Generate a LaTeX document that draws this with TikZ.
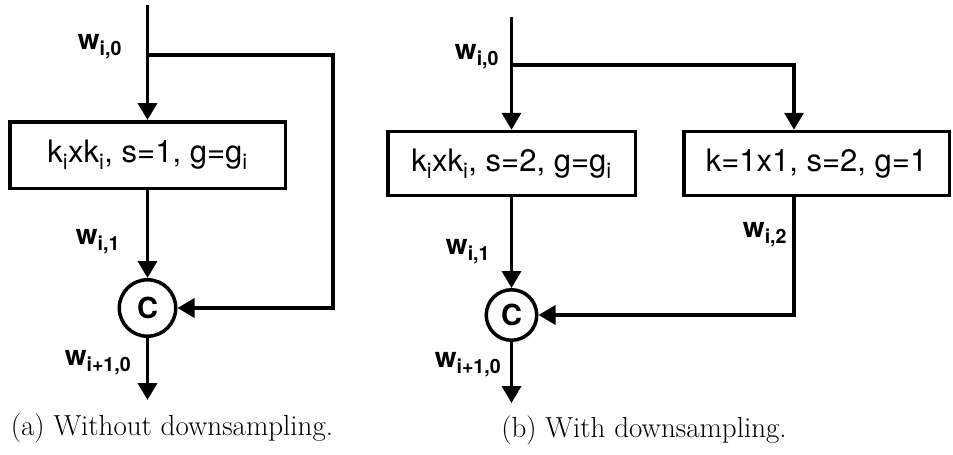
\documentclass[tikz,border=0pt]{standalone}
\usepackage{fontspec}
\newfontfamily\hv{TeX Gyre Heros}
\usetikzlibrary{arrows.meta}
\tikzset{
  ln/.style={line width=3.5pt, line join=miter},
  arr/.style={ln, -{Triangle[length=17pt,width=19pt]}},
  opbox/.style={draw, line width=3.5pt, inner sep=0pt, font=\hv\fontsize{31}{34}\selectfont},
  cat/.style={draw, circle, line width=3.5pt, inner sep=0pt, font=\hv\bfseries\fontsize{29}{30}\selectfont},
  wlab/.style={inner sep=0pt, font=\hv\bfseries\fontsize{28}{30}\selectfont},
  capt/.style={inner sep=0pt, font=\fontsize{29}{32}\selectfont},
}
\newcommand{\sbs}[1]{\textsubscript{#1}}
\begin{document}
\begin{tikzpicture}[x=1pt,y=-1pt]
\useasboundingbox (0,0) rectangle (953,455);
% ---------- (a) ----------
\coordinate (atop) at (147.5,5);
\coordinate (abr) at (147.5,55);
\coordinate (ac1) at (333,55);
\coordinate (ac2) at (333,308);
\node[opbox, minimum width=275.5pt, minimum height=66.5pt] (ba) at (147.5,155) {k\sbs{i}xk\sbs{i}, s=1, g=g\sbs{i}};
\node[cat, minimum size=56.5pt] (ca) at (147.5,308) {C};
\coordinate (aend) at (147.5,400);
\draw[arr] (atop) -- (ba.north);
\draw[arr] (abr) -- (ac1) -- (ac2) -- (ca.east);
\draw[arr] (ba.south) -- (ca.north);
\draw[arr] (ca.south) -- (aend);
\node[wlab] (la0) at (100,47) {w\sbs{i,0}};
\node[wlab] (la1) at (98,242) {w\sbs{i,1}};
\node[wlab] (la2) at (98,363) {w\sbs{i+1,0}};
\node[capt] (capa) at (172,428) {(a) Without downsampling.};
% ---------- (b) ----------
\coordinate (btop) at (511.5,17);
\coordinate (bbr) at (511.5,65);
\coordinate (bc1) at (794,65);
\coordinate (bc2) at (794,315);
\node[opbox, minimum width=247.5pt, minimum height=64pt] (bb1) at (511.5,163.5) {k\sbs{i}xk\sbs{i}, s=2, g=g\sbs{i}};
\node[opbox, minimum width=265.5pt, minimum height=64pt] (bb2) at (816.5,163.5) {k=1x1, s=2, g=1};
\node[cat, minimum size=50.5pt] (cb) at (511.5,315) {C};
\coordinate (bend) at (511.5,403);
\draw[arr] (btop) -- (bb1.north);
\draw[arr] (bbr) -- (bc1) -- (bb2.north -| bc1);
\draw[arr] (bb1.south) -- (cb.north);
\draw[arr] (bb2.south -| bc2) -- (bc2) -- (cb.east);
\draw[arr] (cb.south) -- (bend);
\node[wlab] (lb0) at (477,57) {w\sbs{i,0}};
\node[wlab] (lb1) at (468,252) {w\sbs{i,1}};
\node[wlab] (lb2) at (765,235) {w\sbs{i,2}};
\node[wlab] (lb3) at (468,365) {w\sbs{i+1,0}};
\node[capt] (capb) at (644,430) {(b) With downsampling.};
\end{tikzpicture}
\end{document}
